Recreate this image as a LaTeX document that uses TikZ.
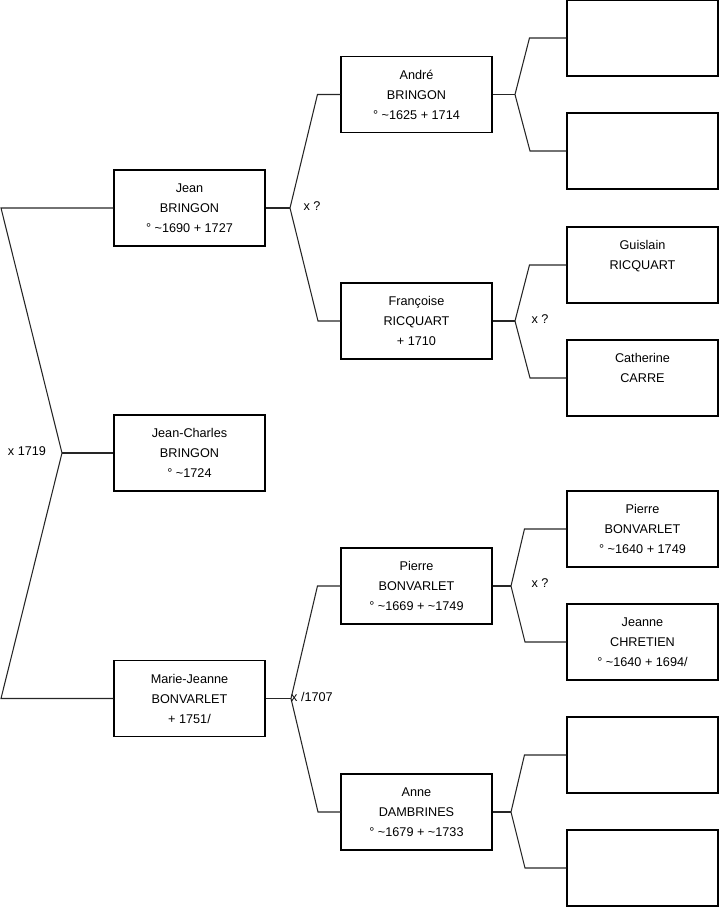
\documentclass[tikz,border=0pt]{standalone}
\usepackage{fontspec}
\setmainfont{Liberation Sans}
\usetikzlibrary{positioning}
\tikzset{
    person/.style={draw, line width=0.8pt, minimum width=113.25pt, minimum height=57pt,
        align=center, font=\fontsize{9.5}{15}\selectfont, inner sep=0pt},
    link/.style={line width=0.8pt, black!85},
    union/.style={font=\fontsize{9.5}{12}\selectfont, inner sep=0pt}
}
\begin{document}
\begin{tikzpicture}[x=0.75pt, y=-0.75pt]
    \useasboundingbox (0,0) rectangle (719,908);

    % Children generation
    \node[person] (jean) at (189.5,208) {Jean\\BRINGON\\° \textasciitilde1690 + 1727};
    \node[person] (jeanCharles) at (189.5,453) {Jean-Charles\\BRINGON\\° \textasciitilde1724};
    \node[person] (marieJeanne) at (189.5,698.5) {Marie-Jeanne\\BONVARLET\\+ 1751/};

    % Parents
    \node[person] (andre) at (416.5,94.5) {André\\BRINGON\\° \textasciitilde1625 + 1714};
    \node[person] (francoise) at (416.5,321) {Françoise\\RICQUART\\+ 1710};
    \node[person] (pierre) at (416.5,586) {Pierre\\BONVARLET\\° \textasciitilde1669 + \textasciitilde1749};
    \node[person] (anne) at (416.5,812) {Anne\\DAMBRINES\\° \textasciitilde1679 + \textasciitilde1733};

    % Grandparents
    \node[person] (gp1) at (642.5,38) {};
    \node[person] (gp2) at (642.5,151) {};
    \node[person] (gp3) at (642.5,265) {Guislain\\RICQUART\\\mbox{}};
    \node[person] (gp4) at (642.5,378) {Catherine\\CARRE\\\mbox{}};
    \node[person] (gp5) at (642.5,529) {Pierre\\BONVARLET\\° \textasciitilde1640 + 1749};
    \node[person] (gp6) at (642.5,642) {Jeanne\\CHRETIEN\\° \textasciitilde1640 + 1694/};
    \node[person] (gp7) at (642.5,755) {};
    \node[person] (gp8) at (642.5,868) {};

    % Fork points
    \coordinate (top0) at (1,208);
    \coordinate (fork0) at (62,453);
    \coordinate (bot0) at (1,698.5);
    \coordinate (fork1) at (290,208);
    \coordinate (fork2) at (291,698.5);
    \coordinate (fork3) at (515,94.5);
    \coordinate (fork4) at (515,321);
    \coordinate (fork5) at (511,586);
    \coordinate (fork6) at (511,812);

    % Union of Jean and Marie-Jeanne
    \draw[link] (jean.west) -- (top0) -- (fork0) -- (bot0) -- (marieJeanne.west);
    \draw[link] (fork0) -- (jeanCharles.west);
    \node[union] (u0) at (27,451) {x 1719};

    % Jean's parents
    \draw[link] (jean.east) -- (fork1);
    \draw[link] (andre.west) -- ++(-23,0) -- (fork1) -- (318,321) -- (francoise.west);
    \node[union] (u1) at (312,206) {x ?};

    % Marie-Jeanne's parents
    \draw[link] (marieJeanne.east) -- (fork2);
    \draw[link] (pierre.west) -- ++(-23,0) -- (fork2) -- (318,812) -- (anne.west);
    \node[union] (u2) at (312,697) {x /1707};

    % Grandparents
    \draw[link] (andre.east) -- (fork3);
    \draw[link] (gp1.west) -- ++(-37,0) -- (fork3) -- (530,151) -- (gp2.west);
    \draw[link] (francoise.east) -- (fork4);
    \draw[link] (gp3.west) -- ++(-37,0) -- (fork4) -- (530,378) -- (gp4.west);
    \node[union] (u3) at (540,319) {x ?};
    \draw[link] (pierre.east) -- (fork5);
    \draw[link] (gp5.west) -- ++(-42,0) -- (fork5) -- (525,642) -- (gp6.west);
    \node[union] (u4) at (540,583) {x ?};
    \draw[link] (anne.east) -- (fork6);
    \draw[link] (gp7.west) -- ++(-42,0) -- (fork6) -- (525,868) -- (gp8.west);

\end{tikzpicture}
\end{document}
